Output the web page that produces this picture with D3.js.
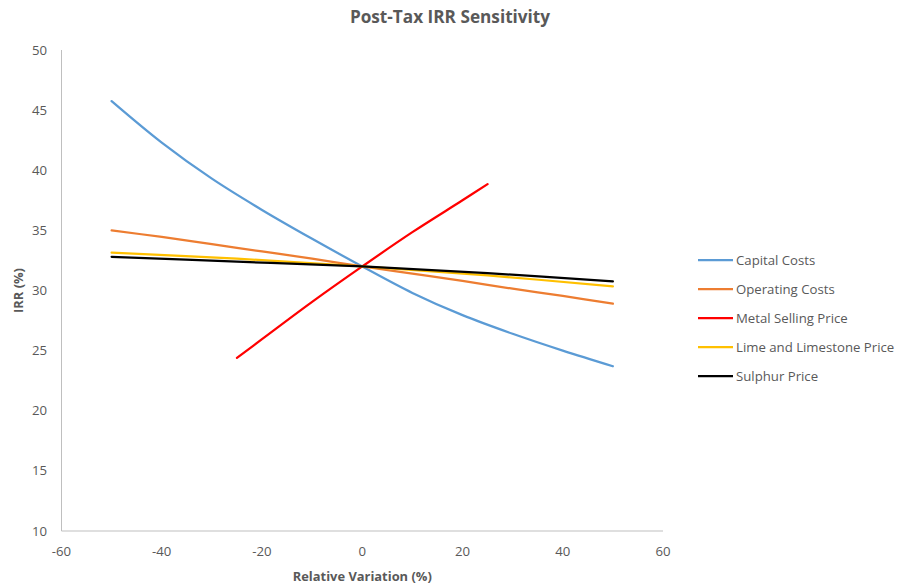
<!DOCTYPE html>
<html><head><meta charset="utf-8">
<script src="https://cdn.jsdelivr.net/npm/d3@7"></script>
<style>body{margin:0;background:#fff}svg{display:block}text{font-family:"Open Sans",Lato,sans-serif;fill:#595959}</style>
</head><body>
<svg id="c" width="899" height="585"></svg>
<script>
const seriesNames = ["Capital Costs","Operating Costs","Metal Selling Price","Lime and Limestone Price","Sulphur Price"];
const seriesColors = ["#5b9bd5","#ed7d31","#ff0000","#ffc000","#000000"];
const capitalX = [-50,-40,-30,-20,-10,0,10,20,30,40,50];
const capitalY = [45.75,42.3,39.3,36.7,34.3,32.0,29.8,27.95,26.4,25.0,23.7];
const operatingX = [-50,-40,-30,-20,-10,0,10,20,30,40,50];
const operatingY = [35.0,34.45,33.85,33.25,32.65,32.0,31.4,30.8,30.15,29.55,28.9];
const metalX = [-25,-20,-10,0,10,20,25];
const metalY = [24.4,25.95,29.05,32.0,34.85,37.5,38.85];
const limeX = [-50,-25,0,25,50];
const limeY = [33.15,32.65,32.0,31.25,30.35];
const sulphurX = [-50,-25,0,25,50];
const sulphurY = [32.8,32.4,32.0,31.45,30.75];
const xTicks = [-60,-40,-20,0,20,40,60];
const yTicks = [10,15,20,25,30,35,40,45,50];

const seriesData = [[capitalX,capitalY],[operatingX,operatingY],[metalX,metalY],[limeX,limeY],[sulphurX,sulphurY]];

const svg = d3.select("#c");
const x = d3.scaleLinear().domain([-60,60]).range([61.5,663]);
const y = d3.scaleLinear().domain([10,50]).range([531,50]);

svg.append("line").attr("x1",x(-60)).attr("x2",x(-60)).attr("y1",y(50)).attr("y2",y(10)).attr("stroke","#bfbfbf").attr("stroke-width",1);
svg.append("line").attr("x1",x(-60)).attr("x2",x(60)).attr("y1",y(10)).attr("y2",y(10)).attr("stroke","#bfbfbf").attr("stroke-width",1);

svg.append("g").selectAll("text").data(yTicks).join("text")
  .attr("x",47).attr("y",d=>y(d)).attr("dy","0.35em").attr("text-anchor","end")
  .attr("font-size",13.2).text(d=>d);
svg.append("g").selectAll("text").data(xTicks).join("text")
  .attr("x",d=>x(d)).attr("y",551).attr("dy","0.35em").attr("text-anchor","middle")
  .attr("font-size",13.2).text(d=>d);

svg.append("text").attr("x",450).attr("y",17).attr("dy","0.35em").attr("text-anchor","middle")
  .attr("font-size",17.2).attr("font-weight","bold").text("Post-Tax IRR Sensitivity");
svg.append("text").attr("x",x(0)).attr("y",576).attr("dy","0.35em").attr("text-anchor","middle")
  .attr("font-size",12.9).attr("font-weight","bold").text("Relative Variation (%)");
svg.append("text").attr("transform",`translate(18,${y(30)}) rotate(-90)`).attr("dy","0.35em").attr("text-anchor","middle")
  .attr("font-size",12.9).attr("font-weight","bold").text("IRR (%)");

const line = d3.line().x(d=>x(d[0])).y(d=>y(d[1])).curve(d3.curveCatmullRom.alpha(0.5));
seriesData.forEach((s,i)=>{
  const pts = s[0].map((v,j)=>[v,s[1][j]]);
  svg.append("path").attr("d",line(pts)).attr("fill","none")
    .attr("stroke",seriesColors[i]).attr("stroke-width",2.25).attr("stroke-linecap","round");
});

const leg = svg.append("g");
seriesNames.forEach((n,i)=>{
  const yy = 260 + i*29;
  leg.append("line").attr("x1",698).attr("x2",733).attr("y1",yy).attr("y2",yy)
    .attr("stroke",seriesColors[i]).attr("stroke-width",2.25);
  leg.append("text").attr("x",736).attr("y",yy).attr("dy","0.35em").attr("font-size",13.2).text(n);
});
</script>
</body></html>
